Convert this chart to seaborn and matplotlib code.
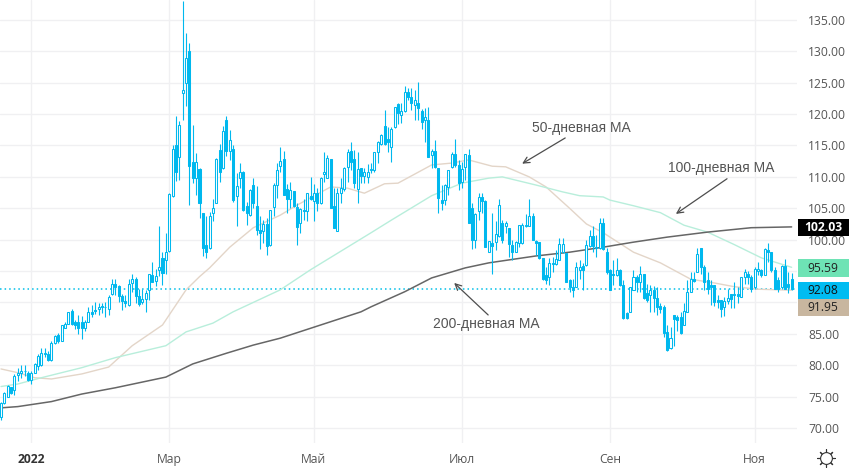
# Candlestick chart with 50/100/200 day moving averages
import matplotlib
matplotlib.use('Agg')
import matplotlib.pyplot as plt
import seaborn as sns
import pandas as pd
from matplotlib.lines import Line2D
from matplotlib.patches import Rectangle

opens = [71.8,73.9,75.0,76.5,76.0,78.5,78.8,79.0,78.8,77.7,
         78.8,79.9,80.0,81.8,81.8,80.8,83.5,84.8,83.9,86.0,
         86.6,88.6,86.9,86.8,86.8,85.9,86.8,88.4,88.8,89.0,
         89.4,89.3,89.0,91.3,92.9,92.6,91.0,90.3,89.6,93.1,
         93.7,91.1,90.0,90.5,91.9,94.3,93.4,95.1,97.0,96.7,
         98.2,107.0,115.1,113.2,123.4,124.9,130.0,112.4,109.8,111.2,
         104.2,99.2,98.6,104.3,105.9,114.3,111.4,119.0,114.2,114.4,
         107.0,109.8,110.7,105.4,103.9,108.7,105.4,101.5,101.3,102.5,
         99.2,105.2,108.7,111.8,112.8,108.0,106.4,107.8,105.2,102.7,
         104.7,104.5,107.0,106.1,107.4,105.8,110.4,109.8,112.9,105.4,
         101.4,107.4,108.0,111.5,114.1,112.8,108.0,111.4,110.1,110.0,
         111.1,111.1,114.0,115.2,118.1,116.0,114.8,117.9,121.6,119.9,
         120.5,123.5,122.8,121.5,121.7,120.5,119.0,119.0,113.5,114.1,
         111.4,106.3,106.3,108.4,111.5,113.7,111.9,109.2,111.5,113.5,
         105.0,99.9,104.5,106.8,106.1,98.1,99.4,99.7,100.6,102.6,
         102.2,101.8,99.1,98.1,99.5,99.5,102.1,102.2,103.8,99.8,
         99.6,97.0,94.4,94.1,96.1,96.1,96.8,98.1,97.8,93.6,
         92.5,92.5,95.1,95.8,95.9,99.0,100.6,98.9,98.6,102.6,
         98.1,95.2,94.5,94.4,95.2,92.8,88.3,88.5,92.0,94.1,
         93.3,94.5,91.5,91.2,92.0,90.7,89.4,89.3,85.3,82.7,
         88.0,87.6,87.7,86.4,88.5,91.7,93.8,94.9,98.6,95.7,
         93.6,92.8,92.8,90.4,90.4,89.2,90.3,91.4,91.2,91.3,
         90.9,94.0,94.5,94.1,92.4,95.0,95.2,94.4,98.4,98.1,
         95.2,93.6,92.4,95.8,93.0,93.8]
closes = [73.9,75.5,76.7,75.5,78.3,78.7,79.1,79.1,77.6,78.8,
          80.2,81.5,81.9,81.9,80.8,83.5,84.7,83.8,86.4,86.6,
          88.4,86.6,86.4,85.9,85.9,86.8,88.4,88.2,88.6,89.2,
          89.2,89.2,90.8,93.0,92.5,91.1,90.3,89.9,93.0,93.7,
          91.1,89.7,90.6,91.5,94.5,93.3,94.2,95.6,94.7,98.0,
          107.3,114.4,110.7,118.2,123.9,128.9,111.8,109.8,112.3,105.8,
          98.6,98.0,103.8,105.0,112.8,110.7,117.3,114.2,115.9,106.3,
          108.5,110.7,104.7,104.3,107.9,105.8,101.5,101.1,102.5,99.0,
          104.8,108.7,111.1,112.5,107.1,106.5,107.9,105.4,102.0,104.9,
          104.6,107.4,106.5,107.4,105.8,109.8,110.7,113.0,105.0,101.9,
          107.4,108.2,111.4,113.9,112.4,109.1,111.2,110.1,110.7,110.8,
          111.3,113.9,115.6,116.7,115.2,115.6,117.7,121.1,120.1,120.5,
          123.6,122.8,121.7,122.3,120.9,118.8,119.5,113.1,114.1,111.6,
          106.6,105.9,108.7,111.1,113.6,111.9,109.1,111.2,113.6,102.7,
          99.9,104.1,106.8,106.2,98.9,99.8,99.0,100.9,105.5,99.9,
          102.6,99.3,98.1,99.7,102.3,102.3,102.3,103.7,99.9,99.5,
          97.0,93.7,93.5,96.2,96.3,96.9,99.3,99.3,93.3,92.5,
          92.0,95.7,95.7,95.1,99.1,100.6,99.0,98.6,102.6,98.5,
          94.9,92.0,94.3,95.2,92.8,87.5,87.5,92.4,94.1,93.3,
          94.5,90.7,90.4,92.0,90.7,89.3,88.9,85.2,82.4,84.3,
          87.3,87.2,85.2,88.6,91.6,93.8,93.4,97.7,95.7,93.3,
          92.2,92.5,90.1,90.1,89.0,90.2,90.7,90.5,91.4,91.0,
          94.0,94.9,94.0,92.2,95.4,95.4,94.4,98.5,98.1,95.1,
          92.2,92.2,95.8,92.2,92.4,92.08]
highs = [74.2,75.8,76.8,76.6,78.6,79.5,80.0,80.0,79.0,79.0,
         80.3,81.8,82.7,82.7,82.2,83.9,84.8,85.1,86.4,86.8,
         88.4,88.9,87.2,88.0,87.8,87.2,89.3,89.6,90.1,89.9,
         89.9,90.1,91.2,93.8,93.8,92.8,91.3,91.2,93.8,94.6,
         94.0,92.2,92.1,92.0,94.6,96.5,95.4,102.2,98.1,101.0,
         107.4,115.1,119.7,118.9,138.0,133.0,131.4,118.3,113.8,111.4,
         104.3,103.7,104.4,106.5,113.0,115.3,118.1,119.7,117.4,115.1,
         110.6,112.2,111.0,106.0,108.0,109.9,108.5,103.7,103.1,103.4,
         104.8,109.0,112.2,114.8,114.2,108.8,109.2,107.8,105.8,105.0,
         106.4,107.5,110.0,108.8,108.2,110.0,114.0,113.5,112.9,108.2,
         108.2,109.8,111.6,114.5,115.5,114.3,114.0,111.4,111.4,112.0,
         112.2,114.0,115.7,116.8,120.7,117.9,117.9,121.2,121.7,121.7,
         124.4,124.1,124.1,123.8,125.1,120.8,120.9,121.1,114.4,115.9,
         111.4,108.7,108.9,111.1,114.0,116.1,112.7,112.4,113.6,114.5,
         105.8,104.2,107.4,107.4,106.3,99.8,104.2,102.9,106.4,103.1,
         103.0,101.8,99.9,99.8,102.3,102.6,104.1,106.4,104.3,99.9,
         99.7,97.0,95.7,97.0,97.2,98.3,100.2,100.2,97.9,93.7,
         93.7,96.5,96.8,96.2,99.9,101.5,102.2,100.7,103.4,103.4,
         98.6,95.4,96.8,97.0,95.4,93.6,88.5,92.5,95.2,94.4,
         95.8,94.5,93.0,92.8,92.6,92.4,89.9,89.6,86.4,86.1,
         88.0,88.0,88.5,89.9,93.6,94.9,94.9,98.6,98.7,95.9,
         94.9,93.6,92.8,91.2,90.4,90.8,92.2,91.4,93.3,92.5,
         94.1,95.3,95.0,94.4,95.7,96.5,95.4,98.6,99.4,98.1,
         95.7,94.1,96.0,96.9,94.9,94.7]
lows = [71.3,73.8,74.9,75.4,75.2,77.4,77.9,78.2,77.4,77.0,
        78.7,79.2,79.9,81.3,80.6,80.7,83.4,83.6,83.8,85.9,
        86.5,86.4,85.7,85.0,84.2,85.5,86.8,87.7,88.1,88.0,
        88.3,87.7,88.0,91.2,91.2,90.1,88.8,89.2,89.5,91.7,
        89.9,89.4,89.7,88.4,90.4,93.2,92.6,94.2,92.8,94.6,
        98.1,106.8,109.4,109.5,119.0,121.3,105.5,109.0,107.1,103.4,
        97.4,97.0,98.5,102.9,105.8,109.2,111.2,113.3,112.7,106.0,
        102.2,108.2,104.5,102.3,103.8,105.0,100.7,98.5,99.4,97.6,
        99.0,103.7,106.6,110.7,107.1,104.2,105.0,105.2,99.2,101.0,
        103.1,102.9,106.3,103.0,104.6,105.7,109.2,109.8,105.0,101.8,
        101.3,105.8,107.8,109.2,111.1,108.2,105.8,109.0,109.1,109.0,
        110.6,110.7,112.2,115.1,115.1,113.9,112.4,117.8,118.5,118.6,
        120.4,122.2,120.7,119.0,119.0,117.7,115.6,113.1,111.4,111.4,
        104.3,104.7,105.5,107.1,111.4,111.6,107.9,108.2,109.5,102.6,
        98.5,98.6,103.1,104.2,98.8,98.0,94.6,98.4,100.5,99.4,
        101.0,97.3,96.8,98.0,98.9,99.3,102.0,102.1,99.9,97.5,
        96.9,93.6,93.0,92.8,94.8,96.0,96.7,97.9,93.3,91.7,
        90.9,92.4,93.8,92.0,95.8,98.9,98.1,97.3,98.5,98.4,
        94.6,92.0,92.8,94.2,92.6,87.3,87.3,88.4,91.9,91.7,
        91.7,90.6,90.1,88.5,88.5,88.0,88.3,84.5,82.3,82.6,
        83.0,85.4,85.0,86.4,88.5,91.6,93.2,94.8,94.6,92.0,
        91.4,89.6,89.4,89.1,87.6,87.9,89.7,89.1,89.1,89.9,
        90.8,93.0,93.0,91.6,92.2,94.4,94.1,94.3,96.5,94.9,
        92.1,91.7,92.2,92.1,91.5,92.0]

# moving averages, read at the bends of each line
ma50_day = [0,5,10,15,24,32,39,48,55,59,62,68,75,83,88,98,103,108,110,114,118,128,134,139,146,150,157,162,169,174,179,188,196,205,212,218,225,235]
ma50_val = [79.4,78.8,78.0,77.8,78.6,79.7,83.1,86.4,92.0,94.1,95.5,98.8,101.9,103.9,105.5,108.4,108.2,107.4,107.9,108.9,109.0,111.9,112.2,112.7,111.7,111.6,110.0,108.4,105.0,102.5,101.1,98.0,96.3,93.7,93.1,92.5,92.1,91.95]
ma100_day = [0,5,12,24,34,49,55,63,69,83,92,110,116,120,128,137,145,149,159,167,172,179,181,188,196,203,210,218,226,235]
ma100_val = [76.6,77.0,78.0,79.6,81.2,83.1,85.3,86.7,88.5,92.0,95.2,101.1,103.1,104.4,107.0,109.0,109.8,110.0,108.7,107.6,107.0,106.8,106.3,105.4,104.3,102.3,101.2,99.2,97.1,95.59]
ma200_day = [0,5,15,24,34,49,57,67,75,83,95,107,110,120,128,138,145,159,169,179,188,198,210,223,235]
ma200_val = [73.2,73.4,74.2,75.4,76.4,78.1,80.2,81.9,83.2,84.3,86.4,88.5,89.3,91.7,93.9,95.5,96.3,97.4,98.0,98.8,99.6,100.4,101.2,101.9,102.03]

month_days = [9, 50, 93, 137, 181, 224]
month_labels = ['2022', 'Мар', 'Май', 'Июл', 'Сен', 'Ноя']
price_ticks = list(range(70, 140, 5))
hidden_ticks = [90, 95]  # covered by the price boxes
last_price = 92.08

cyan = '#00b8ee'
sns.set_style('white')
plt.rcParams['font.family'] = ['Open Sans', 'DejaVu Sans']

df = pd.DataFrame({'open': opens, 'close': closes, 'high': highs, 'low': lows})
df['day'] = df.index
df['up'] = df['close'] >= df['open']
df['bottom'] = df[['open', 'close']].min(axis=1)
df['height'] = (df['close'] - df['open']).abs()

fig = plt.figure(figsize=(8.5, 4.7), dpi=100)
ax = fig.add_axes([0, 27 / 470, 797 / 850, 443 / 470])

ax.grid(True, color='#f0f0f2', lw=1)
ax.set_axisbelow(True)

# dotted line of the last price
ax.axhline(last_price, color='#00bfe8', ls=(0, (1, 2)), lw=1.1, zorder=1.5)

ma_lines = [(ma50_day, ma50_val, '#e3d5c8', 1.0), (ma100_day, ma100_val, '#b8eedb', 1.0), (ma200_day, ma200_val, '#666666', 1.1)]
for days, vals, col, w in ma_lines:
    sns.lineplot(x=days, y=vals, color=col, lw=w, ax=ax, zorder=2, legend=False)

# candles: hollow when price rose, filled when it fell
ax.vlines(df['day'], df['low'], df['high'], color=cyan, lw=0.8, zorder=3)
ups = df[df['up']]
downs = df[~df['up']]
ax.bar(ups['day'], ups['height'], bottom=ups['bottom'], width=0.6, facecolor='white', edgecolor=cyan, lw=0.75, zorder=4)
ax.bar(downs['day'], downs['height'], bottom=downs['bottom'], width=0.6, facecolor=cyan, edgecolor=cyan, lw=0.75, zorder=4)

ax.set_xlim(-0.3, 236.6)
ax.set_ylim(67.6, 138.18)
ax.set_xticks(month_days)
ax.set_xticklabels(month_labels)
ax.set_yticks(price_ticks)
ax.set_yticklabels(['' if p in hidden_ticks else '%.2f' % p for p in price_ticks])
ax.yaxis.tick_right()
ax.tick_params(axis='both', length=0, labelsize=8.7, labelcolor='#555555')
ax.tick_params(axis='x', pad=7)
ax.tick_params(axis='y', pad=8)
ax.get_xticklabels()[0].set_fontweight('bold')
ax.get_xticklabels()[0].set_color('#333333')
sns.despine(ax=ax, left=True, right=True, top=True, bottom=True)

# text with arrows
note_col = '#555555'
notes = [('50-дневная МА', (172.4, 117.8), (154.9, 112.1), (167.7, 116.2)),
         ('100-дневная МА', (214, 111.4), (200.6, 104.1), (215.8, 109.7)),
         ('200-дневная МА', (144.2, 86.6), (134.7, 93.1), (144.8, 88.0))]
for label, text_pos, tip, start in notes:
    ax.text(text_pos[0], text_pos[1], label, ha='center', va='center', fontsize=10, color=note_col, zorder=6,
            family=['Liberation Sans', 'DejaVu Sans'])
    ax.annotate('', xy=tip, xytext=start, zorder=6,
                arrowprops=dict(arrowstyle='->', color='#4d4d4d', lw=0.9, mutation_scale=11, shrinkA=0, shrinkB=0))

# boxes on the price scale
boxes = [('102.03', 219, 17, '#000000', 'white', 'bold'),
         ('95.59', 259, 18, '#6ee3b5', '#222222', 'normal'),
         ('92.08', 282, 17, '#00bcf2', '#111111', 'normal'),
         ('91.95', 299, 17, '#c8b69f', '#222222', 'normal')]
for label, top, high, bg, fg, weight in boxes:
    fig.add_artist(Rectangle((798 / 850, 1 - (top + high) / 470), 51 / 850, high / 470, transform=fig.transFigure, facecolor=bg, edgecolor='none', zorder=8))
    fig.text(823 / 850, 1 - (top + high / 2) / 470, label, ha='center', va='center', fontsize=8.7, color=fg, fontweight=weight, zorder=9)

# settings gear in the corner
fig.add_artist(Line2D([826 / 850], [1 - 458 / 470], transform=fig.transFigure, marker=(8, 2, 0), ms=13, mew=0.8, color='#333333'))
fig.add_artist(Line2D([826 / 850], [1 - 458 / 470], transform=fig.transFigure, marker='o', ms=8.5, mew=0.8, mfc='white', mec='#333333'))

plt.savefig('out.png', dpi=100)
